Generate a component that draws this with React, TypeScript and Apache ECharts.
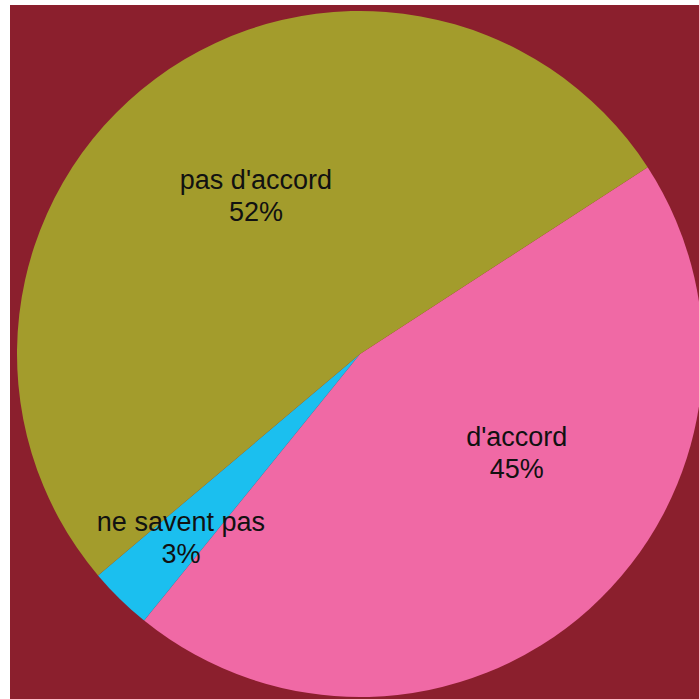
import React, { useEffect, useRef } from "react";
import * as echarts from "echarts";

const categories = ["d'accord", "ne savent pas", "pas d'accord"];
const values = [45, 3, 52];
const colors = ["#F069A5", "#1BBFEF", "#A39C2C"];
const labelOffsets = [
  [40, -31],
  [-57, 59],
  [0, -18],
];

export default function App() {
  const ref = useRef<HTMLDivElement>(null);
  useEffect(() => {
    if (!ref.current) return;
    const chart = echarts.init(ref.current, null, { renderer: "svg" });
    chart.setOption({
      animation: false,
      backgroundColor: "#8B1F2D",
      series: [
        {
          type: "pie",
          center: [350, 349],
          radius: [0, 343],
          startAngle: 33,
          clockwise: true,
          avoidLabelOverlap: false,
          label: {
            show: true,
            position: "inside",
            formatter: "{b}\n{c}%",
            color: "#111",
            fontFamily: "Liberation Sans, Arial, sans-serif",
            fontSize: 27,
            lineHeight: 32,
            align: "center",
          },
          labelLine: { show: false },
          itemStyle: { borderWidth: 0 },
          emphasis: { disabled: true },
          data: categories.map((name, i) => ({
            name,
            value: values[i],
            itemStyle: { color: colors[i] },
            label: { offset: labelOffsets[i] },
          })),
        },
      ],
    });
    return () => chart.dispose();
  }, []);
  return (
    <div
      ref={ref}
      style={{ position: "absolute", left: 10, top: 5, width: 689, height: 694 }}
    />
  );
}
